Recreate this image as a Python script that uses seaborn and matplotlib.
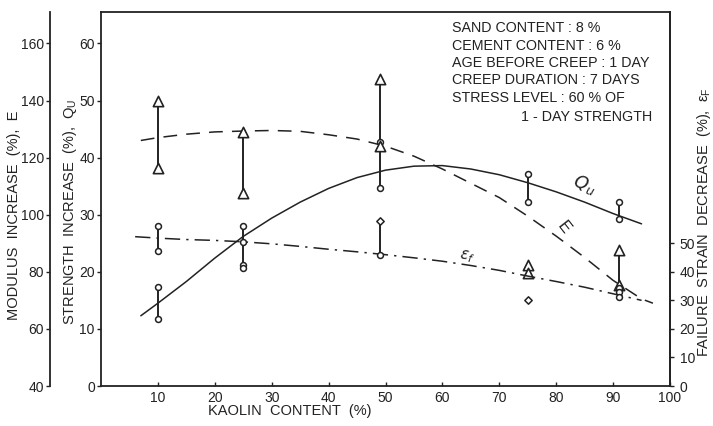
import matplotlib
matplotlib.use("Agg")
import matplotlib.pyplot as plt
import seaborn as sns
import pandas as pd
import numpy as np

# ---------------- data ----------------
# smooth fitted curves
q_curve_x = [7, 10, 15, 20, 25, 30, 35, 40, 45, 50, 55, 60, 65, 70, 75, 80, 85, 90, 95]
q_curve_y = [12.3, 14.5, 18.3, 22.4, 26.2, 29.4, 32.2, 34.6, 36.5, 37.8, 38.5, 38.6, 38.0, 37.0, 35.6, 34.0, 32.2, 30.2, 28.4]

e_curve_x = [7, 10, 15, 20, 25, 30, 35, 40, 45, 50, 55, 60, 65, 70, 75, 80, 85, 90, 95, 97]
e_curve_y = [126, 127, 128.2, 129, 129.3, 129.5, 129.2, 128, 126.5, 124, 120.5, 116, 111, 106, 99.5, 92.5, 85, 77, 70.5, 69]

f_curve_x = [6, 10, 15, 20, 25, 30, 35, 40, 45, 50, 55, 60, 65, 70, 75, 80, 85, 90, 95]
f_curve_y = [52.3, 51.8, 51.3, 51.0, 50.5, 49.8, 48.9, 47.9, 47.0, 46.0, 44.9, 43.7, 42.2, 40.5, 38.5, 36.6, 34.6, 32.3, 30.0]

# measured points
e_pts_x = [10, 10, 25, 25, 49, 49, 75, 75, 91, 91]
e_pts_y = [140, 116.5, 129, 107.7, 147.4, 123.9, 82.5, 79.6, 87.7, 75.4]

q_pts_x = [10, 10, 25, 25, 49, 49, 75, 75, 91, 91]
q_pts_y = [17.4, 11.8, 21.2, 20.7, 42.8, 34.6, 37.2, 32.3, 32.3, 29.3]

f_pts_x = [10, 10, 25, 25, 49, 49, 75, 91, 91, 91]
f_pts_y = [56, 47.4, 56, 50.5, 57.9, 46, 30.2, 34.4, 33.0, 31.2]

x_ticks = [10, 20, 30, 40, 50, 60, 70, 80, 90, 100]
q_ticks = [0, 10, 20, 30, 40, 50, 60]
e_ticks = [40, 60, 80, 100, 120, 140, 160]
f_ticks = [0, 10, 20, 30, 40, 50]

note_lines = ["SAND CONTENT : 8 %",
              "CEMENT CONTENT : 6 %",
              "AGE BEFORE CREEP : 1 DAY",
              "CREEP DURATION : 7 DAYS",
              "STRESS LEVEL : 60 % OF"]
note_last = "1 - DAY STRENGTH"

# ---------------- style ----------------
sns.set_style("ticks")
plt.rcParams['font.family'] = ['Liberation Sans', 'DejaVu Sans']
plt.rcParams['mathtext.fontset'] = 'dejavusans'

W, H = 713, 426
fig = plt.figure(figsize=(W / 100, H / 100), dpi=100)
x0, x1, y0, y1 = 101, 670, 386, 12
ax = fig.add_axes([x0 / W, 1 - y0 / H, (x1 - x0) / W, (y0 - y1) / H])

Q_MAX = (y0 - y1) / 5.71
ax.set_xlim(0, 100)
ax.set_ylim(0, Q_MAX)

axE = ax.twinx()
axE.set_ylim(40, 40 + 2 * Q_MAX)
axF = ax.twinx()
axF.set_ylim(0, 2 * Q_MAX)

lw_sp = 1.3
ink = "#222222"
tfs = 10

# main axes: box
for s in ax.spines.values():
    s.set_linewidth(lw_sp)
    s.set_color(ink)
ax.set_xticks(x_ticks)
ax.tick_params(axis='x', direction='in', length=3, width=1, colors=ink, labelsize=tfs, pad=3.5)
ax.set_yticks(q_ticks)
ax.tick_params(axis='y', direction='out', length=3, width=1, colors=ink, labelsize=tfs, pad=1.5)

# E axis: detached left spine
axE.yaxis.set_ticks_position('left')
axE.yaxis.set_label_position('left')
for nm in ['right', 'top', 'bottom']:
    axE.spines[nm].set_visible(False)
axE.spines['left'].set_position(('axes', (50 - x0) / (x1 - x0)))
axE.spines['left'].set_linewidth(lw_sp)
axE.spines['left'].set_color(ink)
axE.set_yticks(e_ticks)
axE.tick_params(axis='y', direction='out', length=3, width=1, colors=ink, labelsize=tfs, pad=1.5)

# failure strain axis on the right
for nm in ['left', 'top', 'bottom']:
    axF.spines[nm].set_visible(False)
axF.spines['right'].set_linewidth(lw_sp)
axF.spines['right'].set_color(ink)
axF.set_yticks(f_ticks)
axF.tick_params(axis='y', direction='out', length=3, width=1, colors=ink, labelsize=tfs, pad=4)

# ---------------- curves ----------------
sns.lineplot(x=q_curve_x, y=q_curve_y, ax=ax, color=ink, lw=1.1, sort=False)
le = sns.lineplot(x=e_curve_x, y=e_curve_y, ax=axE, color=ink, lw=1.1, sort=False)
le.lines[-1].set_dashes((9, 6))
lf = sns.lineplot(x=f_curve_x, y=f_curve_y, ax=axF, color=ink, lw=1.1, sort=False)
lf.lines[-1].set_dashes((10, 4, 1.5, 4))

# ---------------- range bars (in Q units) ----------------
def qE(v):
    return (v - 40) / 2.0

def qF(v):
    return v / 2.0

bars = [
    (10, qE(e_pts_y[1]), qE(e_pts_y[0])),
    (10, qF(f_pts_y[1]), qF(f_pts_y[0])),
    (10, q_pts_y[1], q_pts_y[0]),
    (25, qE(e_pts_y[3]), qE(e_pts_y[2])),
    (25, min(q_pts_y[2:4]), qF(f_pts_y[2])),
    (49, q_pts_y[5], qE(e_pts_y[4])),
    (49, qF(f_pts_y[5]), qF(f_pts_y[4])),
    (75, q_pts_y[7], q_pts_y[6]),
    (91, q_pts_y[9], q_pts_y[8]),
    (91, qF(f_pts_y[9]), qE(e_pts_y[8])),
]
for bx, lo, hi in bars:
    ax.vlines(bx, lo, hi, color=ink, lw=1.4, zorder=2)

# ---------------- markers ----------------
sns.scatterplot(x=e_pts_x, y=e_pts_y, ax=axE, marker='^', s=55, facecolor='white',
                edgecolor=ink, linewidth=1.2, zorder=5)
sns.scatterplot(x=q_pts_x, y=q_pts_y, ax=ax, marker='o', s=18, facecolor='white',
                edgecolor=ink, linewidth=1.1, zorder=5)
f_df = pd.DataFrame({'x': f_pts_x, 'y': f_pts_y})
diam = [4, 6]
circ = [i for i in range(len(f_pts_x)) if i not in diam]
sns.scatterplot(data=f_df.iloc[circ], x='x', y='y', ax=axF, marker='o', s=18, facecolor='white',
                edgecolor=ink, linewidth=1.1, zorder=5)
sns.scatterplot(data=f_df.iloc[diam], x='x', y='y', ax=axF, marker='D', s=14, facecolor='white',
                edgecolor=ink, linewidth=1.1, zorder=5)

for a in (ax, axE, axF):
    a.set_xlabel("")
    a.set_ylabel("")
    a.set_xlim(0, 100)

# ---------------- labels ----------------
ax.set_xlabel("KAOLIN  CONTENT  (%)", fontsize=10.5, color=ink)
ax.xaxis.set_label_coords((290 - x0) / (x1 - x0), -0.048)
fig.text(14 / W, 1 - 215 / H, "MODULUS  INCREASE  (%),  E", rotation=90, ha='center', va='center',
         fontsize=10.5, color=ink)
fig.text(70 / W, 1 - 212 / H, r"STRENGTH  INCREASE  (%),  $\mathregular{Q_U}$", rotation=90,
         ha='center', va='center', fontsize=10.5, color=ink)
fig.text(704 / W, 1 - 222 / H, r"FAILURE  STRAIN  DECREASE  (%),  $\mathregular{\epsilon_F}$",
         rotation=90, ha='center', va='center', fontsize=10.5, color=ink)

ax.text(85.0, 35.2, r"$Q_u$", fontsize=13, color=ink, rotation=-20, ha='center', va='center')
axE.text(81.3, 95.4, "E", fontsize=12, color=ink, rotation=-52, ha='center', va='center')
axF.text(64.3, 45.2, r"$\epsilon_f$", fontsize=11, color=ink, rotation=-10, ha='center', va='center')

ys = [28, 45.5, 63, 80.5, 98]
for t, yy in zip(note_lines, ys):
    fig.text(452 / W, 1 - yy / H, t, ha='left', va='center', fontsize=10.3, color=ink)
fig.text(652 / W, 1 - 117 / H, note_last, ha='right', va='center', fontsize=10.3, color=ink)

fig.savefig("out.png", dpi=100)
